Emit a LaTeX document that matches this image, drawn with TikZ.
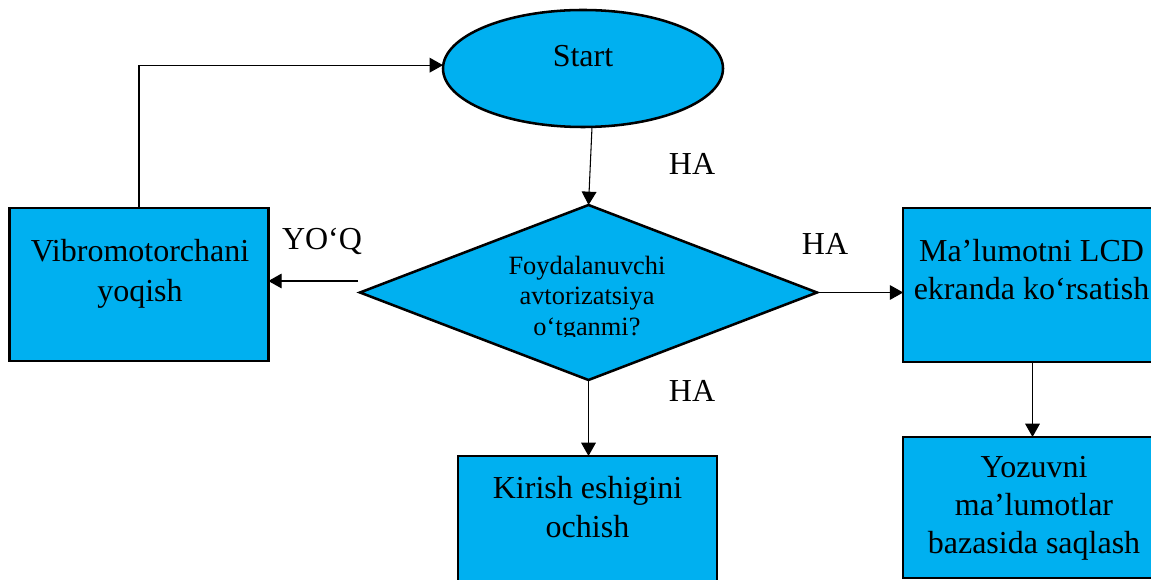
\documentclass[tikz,border=0pt]{standalone}
\usepackage{fontspec}
\setmainfont{Liberation Serif}
\usetikzlibrary{shapes.geometric,arrows.meta}
\definecolor{boxblue}{RGB}{0,176,240}
\tikzset{
  shapebase/.style={draw=black, line width=1.9pt, fill=boxblue, inner sep=0pt, outer sep=0pt},
  procbox/.style={shapebase, rectangle, minimum width=194pt},
  startell/.style={shapebase, ellipse, minimum width=210pt, minimum height=87.75pt},
  decision/.style={shapebase, diamond, minimum width=342.75pt, minimum height=131.25pt},
  bigtxt/.style={font=\fontsize{24}{29}\selectfont, anchor=base, inner sep=0pt},
  smalltxt/.style={font=\fontsize{19.8}{23}\selectfont, anchor=base, inner sep=0pt},
  conn/.style={line width=0.8pt, -{Triangle[length=10pt,width=11pt]}}
}
\begin{document}
\begin{tikzpicture}[x=0.75pt,y=-0.75pt]
\useasboundingbox (0,0) rectangle (1151,580);
\clip (0,0) rectangle (1151,580);
% shapes
\node[startell] (start) at (583,68.5) {};
\node[procbox, minimum height=114.75pt] (vib) at (139,284.5) {};
\node[decision] (dec) at (588.5,292.5) {};
\node[procbox, minimum height=115.5pt] (lcd) at (1032.5,285) {};
\node[procbox, minimum height=105.75pt] (db) at (1032.5,507.5) {};
\node[procbox, minimum height=114.75pt] (door) at (587.5,532.5) {};
% texts
\node[bigtxt] (tstart) at (583,67) {Start};
\node[bigtxt] (tvib1) at (140,262) {Vibromotorchani};
\node[bigtxt] (tvib2) at (140,302) {yoqish};
\node[bigtxt] (tlcd1) at (1031.5,262) {Ma’lumotni LCD};
\node[bigtxt] (tlcd2) at (1031.5,300) {ekranda ko‘rsatish};
\node[bigtxt] (tdb1) at (1034,477) {Yozuvni};
\node[bigtxt] (tdb2) at (1034,515) {ma’lumotlar};
\node[bigtxt] (tdb3) at (1034,553) {bazasida saqlash};
\node[bigtxt] (tdoor1) at (587.5,498) {Kirish eshigini};
\node[bigtxt] (tdoor2) at (587.5,537) {ochish};
\begin{scope}
\clip (300,200) rectangle (880,337);
\node[smalltxt] (tdec1) at (587,275) {Foydalanuvchi};
\node[smalltxt] (tdec2) at (587,305) {avtorizatsiya};
\node[smalltxt] (tdec3) at (587,335) {o‘tganmi?};
\end{scope}
% labels
\node[bigtxt] (ha1) at (692,175) {HA};
\node[bigtxt] (ha2) at (825,255) {HA};
\node[bigtxt] (ha3) at (692,401) {HA};
\node[bigtxt] (yoq) at (322,250) {YO‘Q};
% connectors
\coordinate (yoqstart) at (358,281);
\draw[conn] ([xshift=6.75pt]start.south) -- (dec.north);
\draw[conn] (vib.north) |- ([yshift=2.5pt]start.west);
\draw[conn] (yoqstart) -- (vib.east |- yoqstart);
\draw[conn] (dec.east) -- (dec.east -| lcd.west);
\draw[conn] (dec.south) -- (dec.south |- door.north);
\draw[conn] (lcd.south) -- (db.north);
\end{tikzpicture}
\end{document}
